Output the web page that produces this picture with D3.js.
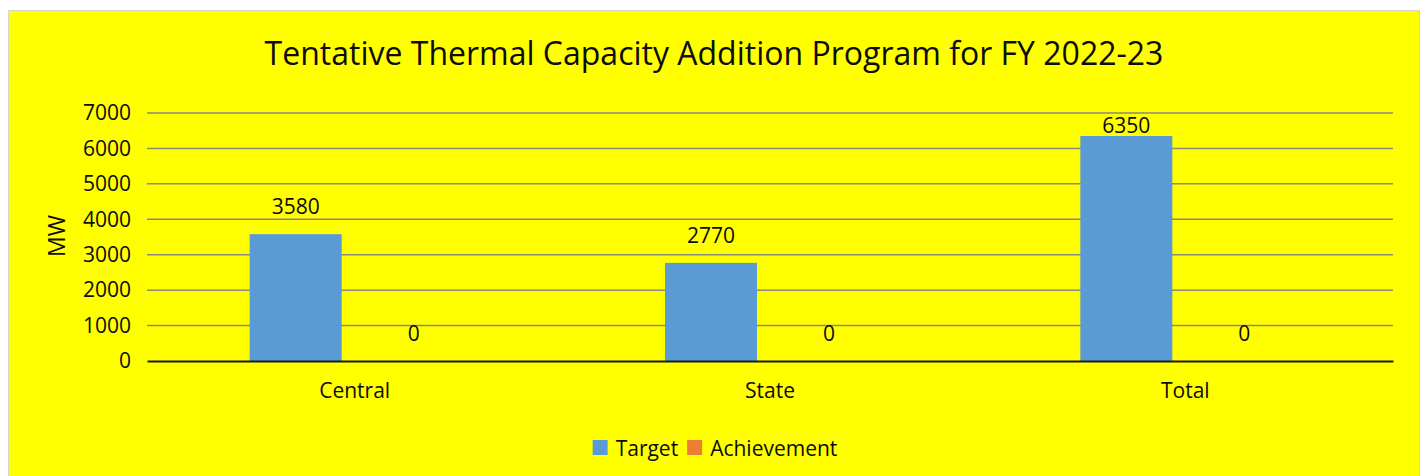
<!DOCTYPE html>
<html>
<head>
<meta charset="utf-8">
<script src="https://cdn.jsdelivr.net/npm/d3@7"></script>
<style>
body{margin:0;background:#fff;}
text{font-family:"Open Sans",sans-serif;fill:#0d0d0d;}
</style>
</head>
<body>
<div id="chart"></div>
<script>
var categories=["Central","State","Total"];
var seriesNames=["Target","Achievement"];
var target=[3580,2770,6350];
var achievement=[0,0,0];
var yTicks=[0,1000,2000,3000,4000,5000,6000,7000];
var title="Tentative Thermal Capacity Addition Program for FY 2022-23";
var colors=["#5B9BD5","#ED7D31"];

var wide=1426;
var high=476;
var svg=d3
  .select("#chart")
  .append("svg")
  .attr("width",wide)
  .attr("height",high);

// yellow chart box
svg.append("rect")
  .attr("x",8.5)
  .attr("y",10.5)
  .attr("width",1411)
  .attr("height",470)
  .attr("fill","#FFFF00")
  .attr("stroke","#d6d6d6");

var plotLeft=147;
var plotRight=1393;
var yscale=d3.scaleLinear().domain([0,7000]).range([361,113]);
var x0=d3.scaleBand().domain(categories).range([plotLeft,plotRight]).padding(0);
var cw=x0.bandwidth();
var x1=d3.scaleBand().domain(seriesNames).range([cw/2-105,cw/2+105]).paddingInner(0.22).paddingOuter(0);

// gridlines
svg.append("g")
  .selectAll("line")
  .data(yTicks.filter(function(d){return d>0;}))
  .enter()
  .append("line")
  .attr("x1",plotLeft)
  .attr("x2",plotRight)
  .attr("y1",function(d){return yscale(d);})
  .attr("y2",function(d){return yscale(d);})
  .attr("stroke","#8a8a7a")
  .attr("stroke-width",1.5);

// y tick labels
var yaxis=d3.axisLeft(yscale).tickValues(yTicks).tickSize(0).tickPadding(16).tickFormat(d3.format("d"));
var yg=svg.append("g")
  .attr("transform","translate("+plotLeft+",0)")
  .call(yaxis);
yg.select(".domain").remove();
yg.selectAll("text")
  .style("font-family","'Open Sans',sans-serif")
  .style("font-size","21px")
  .attr("fill","#0d0d0d");

// bars
var rows=categories.map(function(c,i){
  return {cat:c,vals:[{s:seriesNames[0],v:target[i]},{s:seriesNames[1],v:achievement[i]}]};
});
var groups=svg.selectAll("g.grp")
  .data(rows)
  .enter()
  .append("g")
  .attr("class","grp")
  .attr("transform",function(d){return "translate("+x0(d.cat)+",0)";});
groups.selectAll("rect")
  .data(function(d){return d.vals;})
  .enter()
  .append("rect")
  .attr("x",function(d){return x1(d.s);})
  .attr("width",x1.bandwidth())
  .attr("y",function(d){return yscale(d.v);})
  .attr("height",function(d){return yscale(0)-yscale(d.v);})
  .attr("fill",function(d,i){return colors[i];});
groups.selectAll("text")
  .data(function(d){return d.vals;})
  .enter()
  .append("text")
  .attr("x",function(d){return x1(d.s)+x1.bandwidth()/2;})
  .attr("y",function(d){return Math.max(yscale(d.v)-20,yscale(7000)+20);})
  .attr("text-anchor","middle")
  .style("font-size","21px")
  .text(function(d){return d.v;});

// x axis line
var xaxis=d3.axisBottom(x0).tickSize(0).tickPadding(22);
var xg=svg.append("g")
  .attr("transform","translate(0,"+yscale(0)+")")
  .call(xaxis);
xg.select(".domain").attr("stroke","#1a1a1a").attr("stroke-width",2);
xg.selectAll("text")
  .style("font-family","'Open Sans',sans-serif")
  .style("font-size","21px")
  .attr("fill","#0d0d0d");

// title
svg.append("text")
  .attr("x",714)
  .attr("y",65)
  .attr("text-anchor","middle")
  .style("font-size","32px")
  .text(title);

// y label
svg.append("text")
  .attr("transform","translate(65,236)rotate(-90)")
  .attr("text-anchor","middle")
  .style("font-size","23px")
  .text("MW");

// legend
var legend=svg.append("g");
var lx=0;
seriesNames.forEach(function(s,i){
  legend.append("rect")
    .attr("x",lx)
    .attr("y",440)
    .attr("width",15)
    .attr("height",15)
    .attr("fill",colors[i]);
  var t=legend.append("text")
    .attr("x",lx+23)
    .attr("y",456)
    .style("font-size","21px")
    .text(s);
  lx=lx+23+t.node().getComputedTextLength()+9;
});
var lw=lx-9;
legend.attr("transform","translate("+(715-lw/2)+",0)");
</script>
</body>
</html>
